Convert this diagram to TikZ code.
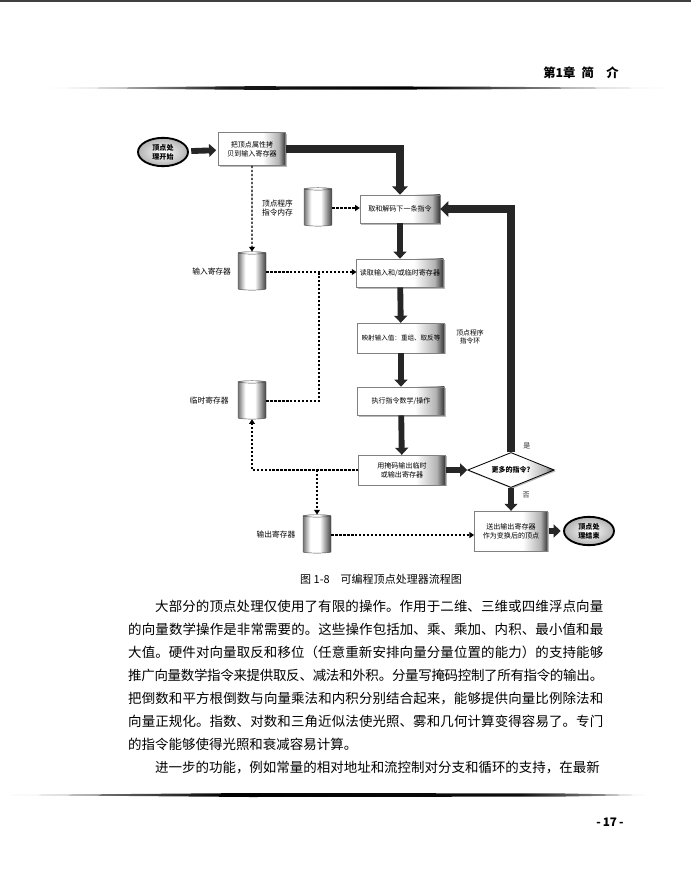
\documentclass[tikz,border=0pt]{standalone}
\usepackage{fontspec}
\setmainfont{Noto Sans CJK SC}
\usetikzlibrary{arrows.meta,shapes.geometric,shadows,positioning}
\XeTeXlinebreaklocale "zh"
\XeTeXlinebreakskip=0pt plus 1pt minus 1pt
\pgfdeclarehorizontalshading{boxshade}{100bp}{color(0bp)=(white); color(25bp)=(white); color(58bp)=(white); color(70bp)=(black!30); color(75bp)=(black!80); color(100bp)=(black!80)}
\pgfdeclarehorizontalshading{cylshade}{100bp}{color(0bp)=(black!55); color(25bp)=(black!55); color(38bp)=(white); color(55bp)=(white); color(75bp)=(black!75); color(100bp)=(black!75)}
\pgfdeclarehorizontalshading{headrule}{100bp}{color(0bp)=(white); color(25bp)=(white); color(32bp)=(black!35); color(40bp)=(black!90); color(55bp)=(black); color(68bp)=(black!40); color(75bp)=(black!8); color(100bp)=(black!8)}
\pgfdeclarehorizontalshading{footrule}{100bp}{color(0bp)=(black!10); color(25bp)=(black!10); color(33bp)=(black!60); color(42bp)=(black); color(65bp)=(black!95); color(72bp)=(black!45); color(75bp)=(black!10); color(100bp)=(black!10)}
\tikzset{
	stepbox/.style={rectangle, shading=boxshade, draw=black!50, line width=0.3pt, drop shadow={shadow xshift=1.2pt, shadow yshift=-1.2pt, fill=black!55}, font=\fontsize{6}{7.5}\selectfont, align=center, inner sep=1pt},
	terminal/.style={ellipse, draw=black, line width=1.6pt, inner color=white, outer color=black!30, font=\fontsize{6}{7.5}\selectfont\bfseries, align=center, minimum width=1.5cm, minimum height=0.85cm, inner sep=0pt},
	store/.style={cylinder, shape border rotate=90, aspect=0.3, draw=black!70, line width=0.4pt, shading=cylshade, minimum width=0.84cm, minimum height=1.15cm},
	decide/.style={diamond, aspect=2.4, draw=black, line width=0.7pt, shading=boxshade, drop shadow={shadow xshift=1pt, shadow yshift=-1.2pt, fill=black!55}, font=\fontsize{6}{7.5}\selectfont\bfseries, minimum width=2.6cm, minimum height=1.05cm, inner sep=0pt},
	storelabel/.style={font=\fontsize{6.6}{7.8}\selectfont, align=center},
	branchlabel/.style={font=\fontsize{6}{7}\selectfont},
	fatarrow/.style={line width=5pt, black!85, -{Triangle[width=11pt,length=6pt]}},
	looparrow/.style={line width=6.5pt, black!85, -{Triangle[width=13pt,length=7pt]}},
	dataarrow/.style={line width=1.1pt, dash pattern=on 2pt off 1.4pt, -{Triangle[width=5pt,length=4pt]}},
	dataline/.style={line width=1.1pt, dash pattern=on 2pt off 1.4pt},
	bodytext/.style={text width=14.25cm, align=justify, inner sep=0pt, font=\fontsize{11.5}{19.6}\selectfont},
}

\begin{document}
\begin{tikzpicture}[x=0.03cm, y=-0.03cm]
			%%%%% START %%%%%
			\useasboundingbox (0, 0) rectangle (691, 889);
			
			% page head
			\fill[black!75] (0, 0) rectangle (691, 2);
			\node[font=\fontsize{10.5}{12}\selectfont\bfseries] (chaphead) at (581, 73) {第1章\enspace 简\quad 介};
			\shade[shading=headrule] (40, 88) -- (250, 86.2) -- (470, 86.6) -- (665, 88) -- (470, 89.4) -- (250, 89.8) -- cycle;
			
			% flow chart
			\node[terminal] (start) at (163, 152) {顶点处\\理开始};
			\node[stepbox, minimum width=2.0cm, minimum height=1.0cm] (copy) at (252, 149) {把顶点属性拷\\贝到输入寄存器};
			\node[stepbox, minimum width=2.4cm, minimum height=0.85cm] (fetch) at (400, 209) {取和解码下一条指令};
			\node[stepbox, minimum width=2.6cm, minimum height=0.85cm] (read) at (400, 273) {读取输入和/或临时寄存器};
			\node[stepbox, minimum width=2.6cm, minimum height=0.9cm, font=\fontsize{5.6}{7}\selectfont] (map) at (401, 338) {映射输入值：重组、取反等};
			\node[stepbox, minimum width=2.6cm, minimum height=0.85cm] (exec) at (401, 401) {执行指令数学/操作};
			\node[stepbox, minimum width=2.6cm, minimum height=0.9cm] (outbox) at (402, 470) {用掩码输出临时\\或输出寄存器};
			\node[decide] (more) at (511, 470) {更多的指令?};
			\node[stepbox, minimum width=2.2cm, minimum height=1.2cm] (send) at (511, 531) {送出输出寄存器\\作为变换后的顶点};
			\node[terminal] (finish) at (589, 531) {顶点处\\理结束};
			
			\node[store] (progmem) at (318, 208) {};
			\node[store] (inreg) at (252, 272) {};
			\node[store] (tempreg) at (252, 401) {};
			\node[store] (outreg) at (317, 535) {};
			\node[storelabel, left=0.2cm of progmem] (progmemtxt) {顶点程序\\指令内存};
			\node[storelabel, left=0.08cm of inreg] (inregtxt) {输入寄存器};
			\node[storelabel, left=0.15cm of tempreg] (temptxt) {临时寄存器};
			\node[storelabel, left=0.1cm of outreg] (outtxt) {输出寄存器};
			\node[storelabel, font=\fontsize{5.8}{7.2}\selectfont] (looptxt) at (470, 337) {顶点程序\\指令环};
			
			\coordinate (join) at (319, 272);
			
			\draw[fatarrow, shorten <=2pt, shorten >=2pt] (start) -- (copy);
			\draw[looparrow] (copy.east) -| (fetch.north);
			\draw[fatarrow] (fetch) -- (read);
			\draw[fatarrow] (read) -- (map);
			\draw[fatarrow] (map) -- (exec);
			\draw[fatarrow] (exec) -- (outbox);
			\draw[fatarrow] (outbox) -- (more);
			\draw[looparrow] (more.north) |- (fetch.east) node[branchlabel, pos=0.012, right=4pt] (yestxt) {是};
			\draw[fatarrow] (more.south) -- (send.north) node[branchlabel, pos=0.3, right=4pt] (notxt) {否};
			\draw[fatarrow, shorten <=1pt, shorten >=2pt] (send) -- (finish);
			
			\draw[dataarrow] (copy.south) -- (inreg.north);
			\draw[dataarrow] (progmem.east) -- (progmem.east -| fetch.west);
			\draw[dataarrow] (inreg.east) -- (inreg.east -| read.west);
			\draw[dataline] (tempreg.east) -| (join);
			\draw[dataarrow] (outbox.west) -| (tempreg.south);
			\draw[dataarrow] (outbox.west -| outreg.north) -- (outreg.north);
			\draw[dataarrow] (outreg.east) -- (outreg.east -| send.west);
			
			\node[font=\fontsize{9.4}{11}\selectfont] (figcap) at (381, 579) {图 1-8\quad 可编程顶点处理器流程图};
			
			% body text
			\node[bodytext, anchor=north west] (para) at (128, 600) {\hspace*{2em}大部分的顶点处理仅使用了有限的操作。作用于二维、三维或四维浮点向量\linebreak
				的向量数学操作是非常需要的。这些操作包括加、乘、乘加、内积、最小值和最\linebreak
				大值。硬件对向量取反和移位（任意重新安排向量分量位置的能力）的支持能够\linebreak
				推广向量数学指令来提供取反、减法和外积。分量写掩码控制了所有指令的输出。\linebreak
				把倒数和平方根倒数与向量乘法和内积分别结合起来，能够提供向量比例除法和\linebreak
				向量正规化。指数、对数和三角近似法使光照、雾和几何计算变得容易了。专门\linebreak
				的指令能够使得光照和衰减容易计算。\par
				\hspace*{2em}进一步的功能，例如常量的相对地址和流控制对分支和循环的支持，在最新};
			
			% page foot
			\shade[shading=footrule] (10, 795) -- (250, 793) -- (560, 793.4) -- (645, 795) -- (560, 796.6) -- (250, 797) -- cycle;
			\node[font=\fontsize{10}{12}\selectfont\bfseries] (pageno) at (610, 822) {-\,17\,-};
			%%%%% END %%%%%
\end{tikzpicture}
\end{document}
